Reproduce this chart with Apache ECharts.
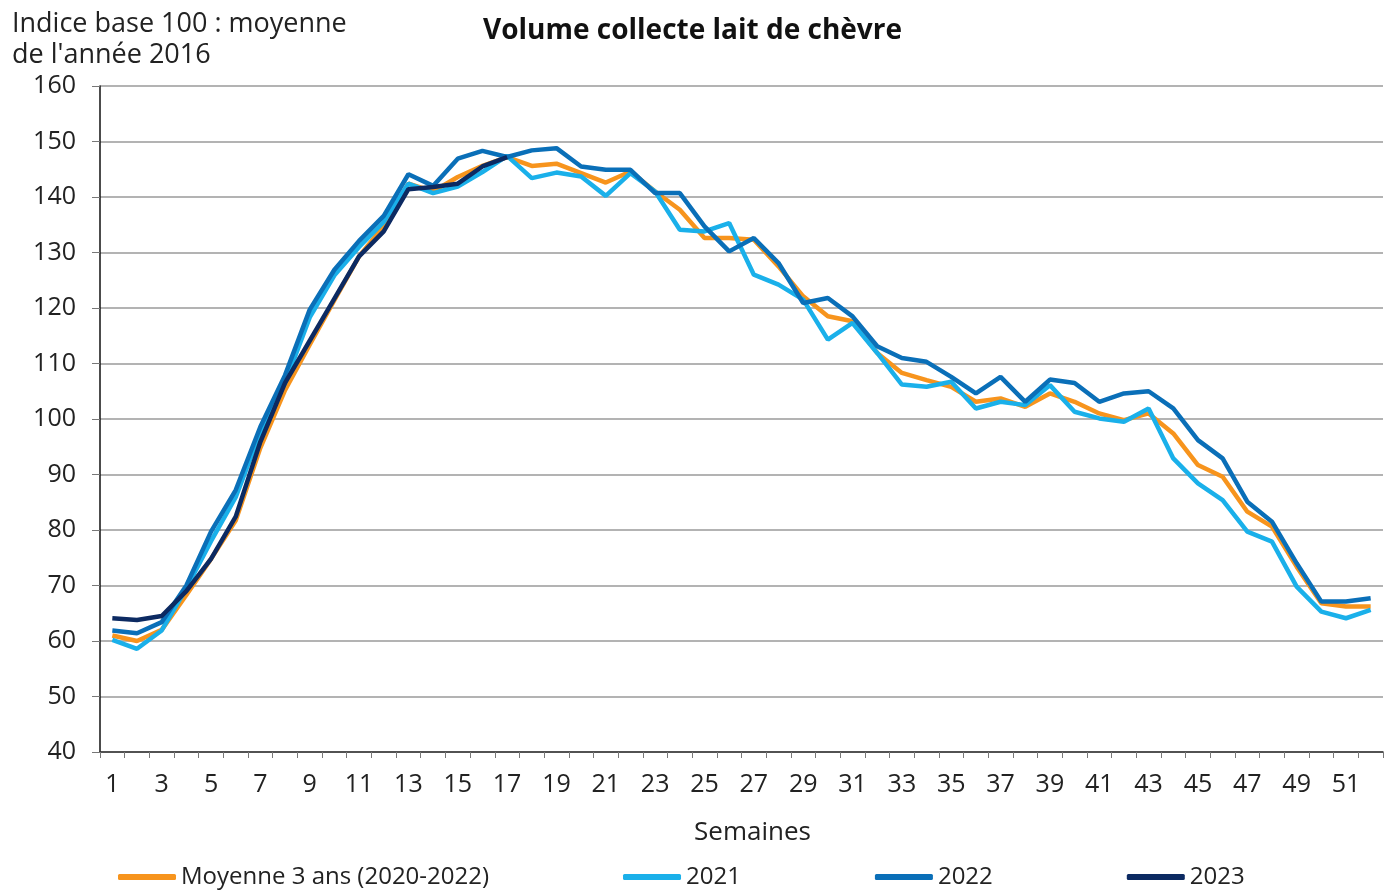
<!DOCTYPE html>
<html>
<head>
<meta charset="utf-8">
<script src="https://cdn.jsdelivr.net/npm/echarts@6/dist/echarts.min.js"></script>
<style>html,body{margin:0;padding:0;background:#fff}#c{width:1385px;height:890px}</style>
</head>
<body>
<div id="c"></div>
<script>
const weeks = Array.from({length: 52}, (_, i) => String(i + 1));
const yTicks = [40, 50, 60, 70, 80, 90, 100, 110, 120, 130, 140, 150, 160];
const seriesNames = ['Moyenne 3 ans (2020-2022)', '2021', '2022', '2023'];
const moyenne = [61.0,60.0,62.0,68.3,74.8,81.7,94.8,105.2,113.4,121.4,129.3,134.8,142.4,141.0,143.6,145.6,147.2,145.6,146.0,144.3,142.6,144.6,141.0,137.7,132.6,132.6,132.3,127.5,122.1,118.5,117.6,111.9,108.3,107.0,105.8,103.1,103.7,102.2,104.6,103.1,101.0,99.8,101.0,97.4,91.7,89.6,83.3,80.6,73.4,66.8,66.2,66.2];
const y2021 = [60.2,58.6,61.9,69.5,78.0,85.9,97.6,106.5,118.3,125.9,131.0,135.5,142.4,140.7,141.9,144.5,147.4,143.4,144.4,143.7,140.2,144.3,141.0,134.1,133.8,135.3,126.0,124.2,121.5,114.3,117.3,111.9,106.2,105.8,106.7,101.9,103.1,102.5,106.1,101.3,100.1,99.5,101.9,92.9,88.4,85.4,79.7,77.9,69.8,65.3,64.1,65.6];
const y2022 = [61.9,61.4,63.4,70.0,79.7,87.2,98.6,107.9,119.7,126.9,132.1,136.6,144.1,142.0,146.9,148.3,147.2,148.4,148.8,145.5,144.9,144.9,140.7,140.7,134.7,130.2,132.6,128.1,120.9,121.8,118.5,113.1,111.0,110.3,107.6,104.6,107.6,103.1,107.1,106.5,103.1,104.6,105.0,101.9,96.2,92.9,85.1,81.5,74.0,67.1,67.1,67.7];
const y2023 = [64.1,63.8,64.5,69.0,74.8,82.4,95.9,106.5,114.1,121.7,129.3,133.8,141.4,141.8,142.4,145.5,147.2];
const colors = ['#F7941D', '#1AB0EA', '#0A6FB8', '#0C2A62'];

const FONT = 'Open Sans';
const chart = echarts.init(document.getElementById('c'), null, {renderer: 'canvas'});
const dataSets = [moyenne, y2021, y2022, y2023];
chart.setOption({
  animation: false,
  textStyle: {fontFamily: FONT, color: '#222'},
  title: {
    text: 'Volume collecte lait de chèvre',
    left: 'center', top: 12,
    textStyle: {fontFamily: FONT, fontSize: 28, fontWeight: 'bold', color: '#111'}
  },
  graphic: [{
    type: 'text', left: 12, top: 9,
    style: {text: "Indice base 100 : moyenne\nde l'année 2016", font: '27px "Open Sans"', fill: '#222', lineHeight: 31}
  }],
  legend: {
    data: seriesNames,
    left: 113, bottom: -4,
    itemWidth: 58, itemHeight: 6, itemGap: 134,
    icon: 'roundRect',
    textStyle: {fontFamily: FONT, fontSize: 24, color: '#222'}
  },
  grid: {left: 100, right: 2, top: 86, bottom: 138},
  xAxis: {
    type: 'category', data: weeks, boundaryGap: true,
    name: 'Semaines', nameLocation: 'middle', nameGap: 68,
    nameTextStyle: {fontFamily: FONT, fontSize: 26, color: '#222', padding: [0, 0, 0, 22]},
    axisLine: {lineStyle: {color: '#333', width: 1.5}},
    axisTick: {show: true, interval: 0, length: 6, lineStyle: {color: '#777'}},
    axisLabel: {interval: 1, fontFamily: FONT, fontSize: 25, color: '#222', margin: 20},
    splitLine: {show: false}
  },
  yAxis: {
    type: 'value', min: yTicks[0], max: yTicks[yTicks.length - 1], interval: 10,
    axisLine: {show: true, lineStyle: {color: '#111', width: 1.5}},
    axisTick: {show: true, length: 8, lineStyle: {color: '#777'}},
    axisLabel: {fontFamily: FONT, fontSize: 25, color: '#222', margin: 24},
    splitLine: {lineStyle: {color: '#9a9a9a', width: 1.5}}
  },
  series: seriesNames.map((n, i) => ({
    name: n, type: 'line', data: dataSets[i],
    symbol: 'none', smooth: false,
    lineStyle: {color: colors[i], width: 4.5},
    itemStyle: {color: colors[i]}
  }))
});
</script>
</body>
</html>
